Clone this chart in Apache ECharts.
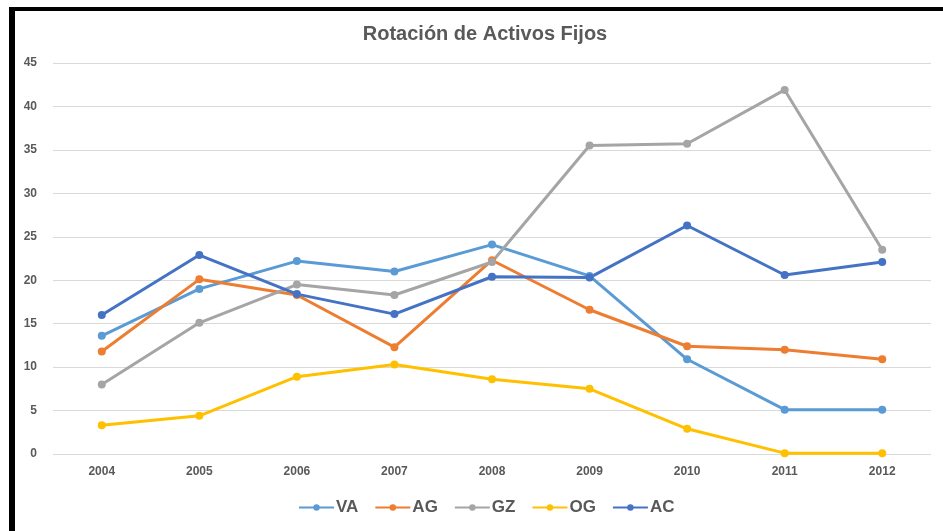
<!DOCTYPE html>
<html>
<head>
<meta charset="utf-8">
<script src="https://cdn.jsdelivr.net/npm/echarts@6/dist/echarts.min.js"></script>
<style>
  html, body { margin: 0; padding: 0; background: #fff; }
  #chart { position: absolute; left: 0; top: 0; width: 943px; height: 531px; }
  /* marco negro arriba e izquierda */
  #marco { position: absolute; left: 9px; top: 7px; right: 0; bottom: 0;
           border-left: 6px solid #000; border-top: 4px solid #000; pointer-events: none; }
</style>
</head>
<body>
<div id="chart"></div>
<div id="marco"></div>
<script>
// datos
var years = ["2004", "2005", "2006", "2007", "2008", "2009", "2010", "2011", "2012"];
var VA = [13.6, 19.0, 22.2, 21.0, 24.1, 20.5, 10.9, 5.1, 5.1];
var AG = [11.8, 20.1, 18.3, 12.3, 22.3, 16.6, 12.4, 12.0, 10.9];
var GZ = [8.0, 15.1, 19.5, 18.3, 22.1, 35.5, 35.7, 41.9, 23.5];
var OG = [3.3, 4.4, 8.9, 10.3, 8.6, 7.5, 2.9, 0.1, 0.1];
var AC = [16.0, 22.9, 18.4, 16.1, 20.4, 20.3, 26.3, 20.6, 22.1];
var yTicks = { min: 0, max: 45, interval: 5 };

var chart = echarts.init(document.getElementById("chart"));

function linea(name, data, color) {
  return {
    name: name,
    type: "line",
    data: data,
    symbol: "circle",
    symbolSize: 8,
    lineStyle: { color: color, width: 3 },
    itemStyle: { color: color },
    animation: false
  };
}

var option = {
  backgroundColor: "#fff",
  title: {
    text: "Rotación de Activos Fijos",
    left: 480,
    textAlign: "center",
    top: 19,
    textStyle: { color: "#595959", fontSize: 20, fontWeight: "bold", fontFamily: "Liberation Sans" }
  },
  legend: {
    bottom: 10,
    left: 293,
    itemWidth: 35,
    itemHeight: 8,
    itemGap: 16,
    textStyle: { color: "#595959", fontSize: 17, fontWeight: "bold", fontFamily: "Liberation Sans", padding: [0, 0, 0, -3] },
    data: ["VA", "AG", "GZ", "OG", "AC"]
  },
  grid: { left: 53, right: 12, top: 63, bottom: 77 },
  xAxis: {
    type: "category",
    data: years,
    axisLine: { show: false },
    axisTick: { show: false },
    axisLabel: { color: "#595959", fontSize: 12, fontWeight: "bold", fontFamily: "Liberation Sans", margin: 12 }
  },
  yAxis: {
    type: "value",
    min: yTicks.min,
    max: yTicks.max,
    interval: yTicks.interval,
    axisLine: { show: false },
    axisTick: { show: false },
    splitLine: { lineStyle: { color: "#D9D9D9", width: 1 } },
    axisLabel: { color: "#595959", fontSize: 12, fontWeight: "bold", fontFamily: "Liberation Sans", margin: 16 }
  },
  series: [
    linea("VA", VA, "#5B9BD5"),
    linea("AG", AG, "#ED7D31"),
    linea("GZ", GZ, "#A5A5A5"),
    linea("OG", OG, "#FFC000"),
    linea("AC", AC, "#4472C4")
  ]
};

chart.setOption(option);
</script>
</body>
</html>
